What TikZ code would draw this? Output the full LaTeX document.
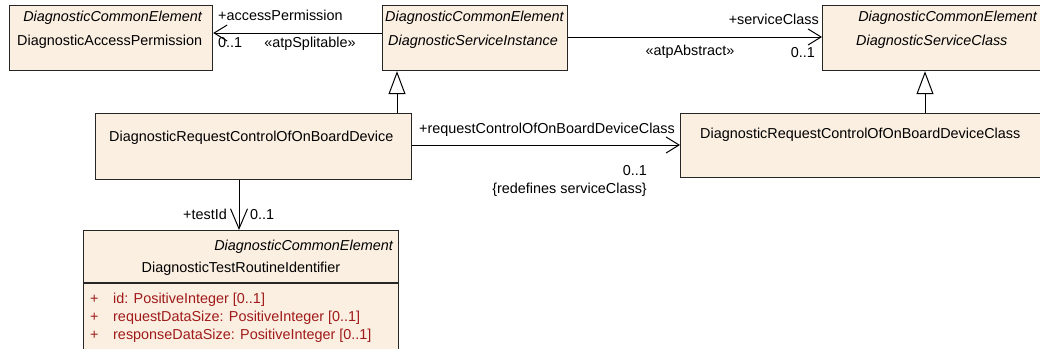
\documentclass[tikz,border=0pt]{standalone}
\usepackage{fontspec}
\setmainfont{Liberation Sans}
\usepackage{tikz}
\usetikzlibrary{arrows.meta,positioning}
\definecolor{clsfill}{HTML}{FBEFE1}
\definecolor{attrred}{HTML}{A01A1A}

\begin{document}
\begin{tikzpicture}[x=1pt, y=-1pt,
        every node/.style={font=\fontsize{14.4}{17}\selectfont, inner sep=0pt},
        cls/.style={draw=black!85, line width=1.2pt, fill=clsfill, anchor=north west},
        assoc/.style={-{Straight Barb[length=13pt, width=16pt]}, line width=1pt},
        gen/.style={-{Triangle[open, length=23pt, width=17pt, fill=white]}, line width=1pt},
        attr/.style={anchor=base west, text=attrred}]
        \useasboundingbox (0,0) rectangle (1040,348);
        \clip (0,0) rectangle (1040,348);

        % classes
        \node (perm) [cls, minimum width=203pt, minimum height=65pt] at (9,5) {};
        \node (inst) [cls, minimum width=185pt, minimum height=65pt] at (382,5) {};
        \node (svc) [cls, minimum width=240pt, minimum height=65pt] at (822,5) {};
        \node (ctrl) [cls, minimum width=316pt, minimum height=66pt] at (95,113) {};
        \node (ctrlcls) [cls, minimum width=380pt, minimum height=64pt] at (680,113) {};
        \node (test) [cls, minimum width=315pt, minimum height=130pt] at (83,230) {};
        \draw[line width=1.2pt, draw=black!85] ([yshift=-53pt]test.north west) -- ([yshift=-53pt]test.north east);

        \node (permst) [anchor=base east] at (202,21) {\itshape DiagnosticCommonElement};
        \node (permname) [anchor=base west] at (17,45) {DiagnosticAccessPermission};
        \node (instst) [anchor=base west] at (385,21) {\itshape DiagnosticCommonElement};
        \node (instname) [anchor=base west] at (388,45) {\itshape DiagnosticServiceInstance};
        \node (svcst) [anchor=base east] at (1037,21) {\itshape DiagnosticCommonElement};
        \node (svcname) [anchor=base west] at (856,45) {\itshape DiagnosticServiceClass};
        \node (ctrlname) [anchor=base west] at (109,141) {DiagnosticRequestControlOfOnBoardDevice};
        \node (ctrlclsname) [anchor=base west] at (700,138) {DiagnosticRequestControlOfOnBoardDeviceClass};
        \node (testst) [anchor=base east] at (393,250) {\itshape DiagnosticCommonElement};
        \node (testname) [anchor=base] at (241,272) {DiagnosticTestRoutineIdentifier};
        \node (plusa) [attr] at (90,303) {+};
        \node (attra) [attr] at (113,303) {id: PositiveInteger [0..1]};
        \node (plusb) [attr] at (90,321) {+};
        \node (attrb) [attr] at (113,321) {requestDataSize: PositiveInteger [0..1]};
        \node (plusc) [attr] at (90,339) {+};
        \node (attrc) [attr] at (113,339) {responseDataSize: PositiveInteger [0..1]};

        % connectors
        \draw[assoc] ([yshift=-28pt]inst.north west) -- ([yshift=-28pt]perm.north east);
        \draw[assoc] ([yshift=-32pt]inst.north east) -- ([yshift=-32pt]svc.north west);
        \draw[assoc] ([yshift=-32pt]ctrl.north east) -- ([yshift=-32pt]ctrlcls.north west);
        \draw[assoc, -{Straight Barb[length=20pt, width=17pt]}] ([xshift=144pt]ctrl.south west) -- ([xshift=156pt]test.north west);
        \draw[gen] ([xshift=302pt]ctrl.north west) -- ([xshift=15pt]inst.south west);
        \draw[gen] ([xshift=245pt]ctrlcls.north west) -- ([xshift=103pt]svc.south west);

        % role names
        \node (permrole) [anchor=base west] at (218,20) {+accessPermission};
        \node (permmult) [anchor=base west] at (218,47) {0..1};
        \node (permster) [anchor=base] at (310,47) {«atpSplitable»};
        \node (svcrole) [anchor=base east] at (819,24) {+serviceClass};
        \node (svcmult) [anchor=base east] at (815,57) {0..1};
        \node (svcster) [anchor=base] at (690,55) {«atpAbstract»};
        \node (ctrlrole) [anchor=base west] at (419,133) {+requestControlOfOnBoardDeviceClass};
        \node (ctrlmult) [anchor=base east] at (647,175) {0..1};
        \node (ctrlredef) [anchor=base east] at (647,193) {\{redefines serviceClass\}};
        \node (testrole) [anchor=base east] at (227,219) {+testId};
        \node (testmult) [anchor=base west] at (250,219) {0..1};
\end{tikzpicture}
\end{document}
